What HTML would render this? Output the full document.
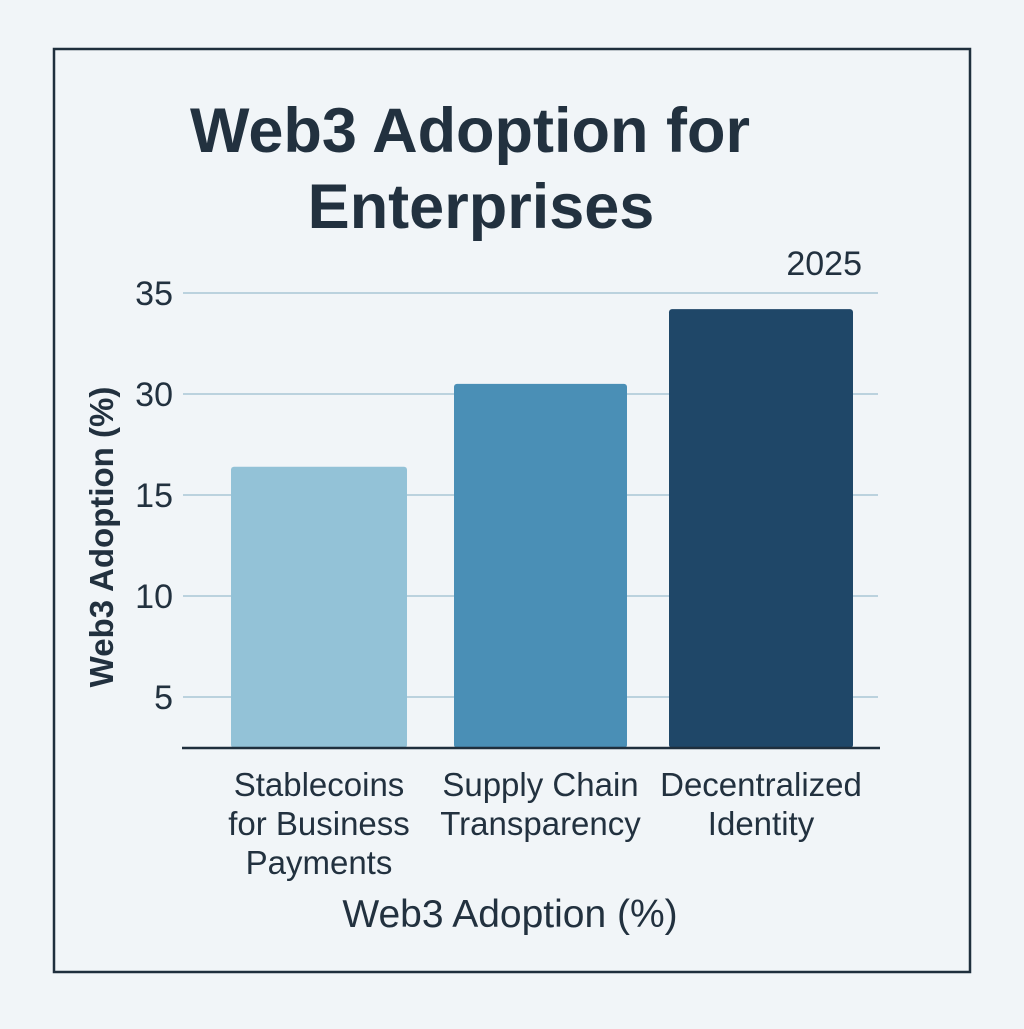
<!DOCTYPE html>
<html><head><meta charset="utf-8"><style>
html,body{margin:0;padding:0;background:#f1f5f8;}
body{width:1024px;height:1024px;position:relative;overflow:hidden;font-family:"Liberation Sans",sans-serif;}
</style></head><body>
<svg id="chart" width="1024" height="1024" viewBox="0 0 1024 1024" xmlns="http://www.w3.org/2000/svg">
<rect x="54" y="49" width="916" height="923" fill="#f1f5f8" stroke="#1f2f3d" stroke-width="2.5"/>
<text x="470" y="152" text-anchor="middle" font-size="63" font-weight="bold" fill="#22313f">Web3 Adoption for</text>
<text x="481" y="228" text-anchor="middle" font-size="63" font-weight="bold" fill="#22313f">Enterprises</text>
<text x="862" y="275" text-anchor="end" font-size="34" fill="#22313f">2025</text>
<text transform="translate(113,537) rotate(-90)" text-anchor="middle" font-size="33" font-weight="bold" fill="#22313f">Web3 Adoption (%)</text>
<text x="510" y="927" text-anchor="middle" font-size="39" fill="#22313f">Web3 Adoption (%)</text>
<g id="grid"></g><g id="bars"></g><g id="xlabels"></g>
<line x1="182" y1="748" x2="880" y2="748" stroke="#1f2f3d" stroke-width="2.5"/>
</svg>
<script>
const categories = [["Stablecoins","for Business","Payments"],["Supply Chain","Transparency"],["Decentralized","Identity"]];
const values = [16.4, 20.5, 24.2];
const tickValues = [5, 10, 15, 20, 25];
const tickLabels = ["5", "10", "15", "30", "35"];
const colors = ["#93c2d7", "#4a8fb6", "#1f4768"];
const NS = "http://www.w3.org/2000/svg";
const y = v => 697 - (v - 5) * 101 / 5;
const barX = [231, 454, 669], barW = [176, 173, 184];
const grid = document.getElementById('grid');
tickValues.forEach((t, i) => {
  const l = document.createElementNS(NS, 'line');
  
  
  l.setAttribute('x1', 183); l.setAttribute('x2', 878);
  l.setAttribute('y1', y(t)); l.setAttribute('y2', y(t));
  l.setAttribute('stroke', '#a9c7d6'); l.setAttribute('stroke-width', '1.5');
  grid.appendChild(l);
  const tx = document.createElementNS(NS, 'text');
  
  
  tx.setAttribute('x', 173); tx.setAttribute('y', y(t) + 12);
  tx.setAttribute('text-anchor', 'end'); tx.setAttribute('font-size', '34'); tx.setAttribute('fill', '#22313f');
  tx.textContent = tickLabels[i];
  grid.appendChild(tx);
});
const bars = document.getElementById('bars'), xl = document.getElementById('xlabels');
values.forEach((v, i) => {
  const r = document.createElementNS(NS, 'rect');
  
  
  r.setAttribute('x', barX[i]); r.setAttribute('width', barW[i]);
  r.setAttribute('y', y(v)); r.setAttribute('height', 748 - y(v));
  r.setAttribute('rx', 3); r.setAttribute('fill', colors[i]);
  bars.appendChild(r);
  categories[i].forEach((line, j) => {
    const t = document.createElementNS(NS, 'text');
    
    
    t.setAttribute('x', barX[i] + barW[i] / 2); t.setAttribute('y', 796 + j * 39);
    t.setAttribute('text-anchor', 'middle'); t.setAttribute('font-size', '33'); t.setAttribute('fill', '#22313f');
    t.textContent = line;
    xl.appendChild(t);
  });
});
</script>
</body></html>
